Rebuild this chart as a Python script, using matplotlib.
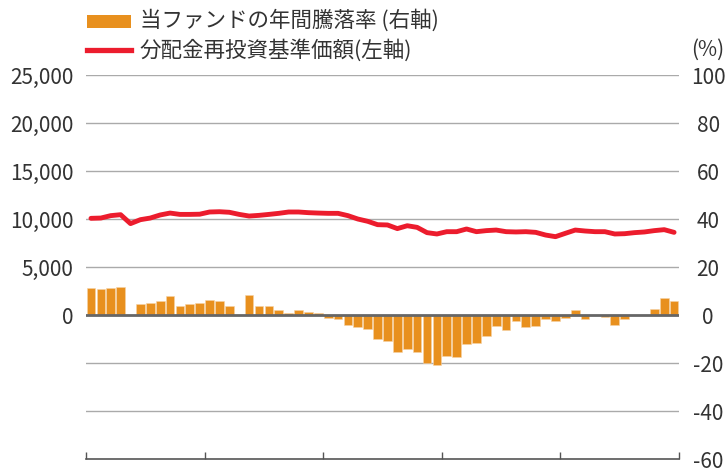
import numpy as np
import matplotlib.pyplot as plt
from matplotlib.patches import Rectangle
from matplotlib.lines import Line2D

plt.rcParams['font.family'] = ['Noto Sans CJK JP', 'DejaVu Sans']

# 年間騰落率(%) 月次 60本
returns = [11.1, 10.7, 11.4, 11.5, 0.0, 4.7, 4.8, 5.8, 7.9, 3.6,
           4.6, 5.0, 6.2, 6.0, 3.6, 0.0, 8.5, 3.8, 3.7, 2.2,
           0.8, 2.1, 1.2, 1.0, -1.4, -1.5, -4.0, -5.0, -5.7, -10.1,
           -11.0, -15.4, -14.0, -15.4, -20.1, -20.8, -17.2, -17.6, -12.2, -11.6,
           -8.9, -4.5, -6.4, -2.6, -5.0, -4.5, -1.8, -2.3, -1.2, 2.2,
           -1.8, 0.0, -0.9, -4.0, -1.5, 0.0, 0.0, 2.5, 6.9, 6.0]

# 分配金再投資基準価額(円)
nav = [10070, 10100, 10350, 10450, 9520, 9930, 10100, 10420, 10620, 10480,
       10480, 10500, 10730, 10760, 10700, 10480, 10310, 10380, 10480, 10590,
       10730, 10730, 10660, 10620, 10590, 10590, 10350, 10000, 9760, 9410,
       9380, 9000, 9300, 9130, 8580, 8440, 8680, 8680, 8960, 8680,
       8790, 8850, 8680, 8650, 8680, 8610, 8330, 8160, 8510, 8850,
       8750, 8680, 8680, 8440, 8470, 8580, 8650, 8790, 8890, 8610]

pct_ticks = [-60, -40, -20, 0, 20, 40, 60, 80, 100]
yen_ticks = [0, 5000, 10000, 15000, 20000, 25000]
labels = ['当ファンドの年間騰落率 (右軸)', '分配金再投資基準価額(左軸)']

bar_color = '#E8901E'
line_color = '#EC1C2D'
text_color = '#333333'

x = np.arange(len(returns))

fig = plt.figure(figsize=(7.26, 4.70), dpi=100)
ax = fig.add_axes([0.1185, 0.0234, 0.8168, 0.817])
ax2 = ax.twinx()

# bars on the right (%) axis
ax.bar(x, returns, width=0.88, color=bar_color, edgecolor='#F6D3A6', linewidth=0.4, zorder=3)
ax.set_ylim(-60, 100)
ax.set_xlim(-0.5, len(returns) - 0.5)
for t in pct_ticks:
    if t == 0:
        ax.axhline(t, color='#666666', lw=2.0, zorder=4)
    elif t != -60:
        ax.axhline(t, color='#AAAAAA', lw=1.0, zorder=1)

# NAV line on the left axis
ax2.plot(x, nav, color=line_color, lw=3.5, solid_capstyle='round', zorder=5)
ax2.set_ylim(-15000, 25000)

# % on the right, yen on the left
ax.yaxis.tick_right()
ax.set_yticks(pct_ticks)
ax.set_yticklabels([str(t) for t in pct_ticks])
ax2.yaxis.tick_left()
ax2.set_yticks(yen_ticks)
ax2.set_yticklabels([f'{t:,}' for t in yen_ticks])
ax.tick_params(axis='y', length=0, pad=21, labelsize=15, labelcolor=text_color)
ax2.tick_params(axis='y', length=0, pad=9, labelsize=15, labelcolor=text_color)
for lab in ax.get_yticklabels():
    lab.set_ha('center')

ax.set_xticks(np.arange(-0.5, len(returns), 12))
ax.set_xticklabels([])
ax.tick_params(axis='x', direction='in', length=5, width=1, color='#555555')

for a in (ax, ax2):
    for s in ('top', 'left', 'right'):
        a.spines[s].set_visible(False)
ax2.spines['bottom'].set_visible(False)
ax.spines['bottom'].set_color('#555555')
ax.spines['bottom'].set_linewidth(1.2)

fig.text(708 / 726, 1 - 50 / 470, '(%)', fontsize=15, color=text_color, ha='center', va='center')

# legend drawn by hand
W, H = 726, 470
fig.patches.append(Rectangle((87 / W, 1 - 28 / H), 44 / W, 13 / H, transform=fig.transFigure,
                             facecolor=bar_color, edgecolor='none'))
fig.lines.append(Line2D([87 / W, 131 / W], [1 - 50 / H, 1 - 50 / H], transform=fig.transFigure,
                        color=line_color, lw=3.8))
fig.text(140 / W, 1 - 20 / H, labels[0], fontsize=15.5, color=text_color, ha='left', va='center')
fig.text(140 / W, 1 - 50 / H, labels[1], fontsize=15.5, color=text_color, ha='left', va='center')

fig.savefig('out.png', dpi=100)
